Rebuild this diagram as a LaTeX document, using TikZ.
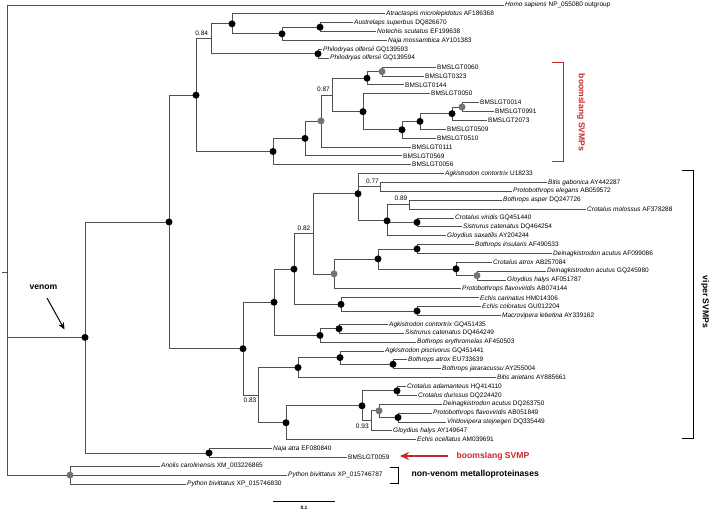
\documentclass[tikz,border=0pt]{standalone}
\usepackage{fontspec}
\setmainfont{Liberation Sans}
\usetikzlibrary{arrows.meta}
\definecolor{brc}{RGB}{80,80,80}
\definecolor{gdc}{RGB}{115,115,115}
\definecolor{redc}{RGB}{200,40,45}
\newcommand\lf[4]{\node[lfst] (#1) at ({#2-1.5},{5+8.87*#3}) {#4};}
\newcommand\kids[2]{\foreach \c in {#2} {\draw[br] (#1) |- (\c);}}
\newcommand\bdot[1]{\fill[black] (#1) circle (3.5pt);}
\newcommand\gdot[1]{\fill[gdc] (#1) circle (3.5pt);}
\begin{document}
\begin{tikzpicture}[x=1pt,y=-1pt,
  lfst/.style={anchor=west,inner xsep=1.5pt,inner ysep=0pt,font=\fontsize{6.5}{7}\selectfont},
  br/.style={draw=brc,line width=0.75pt},
  supp/.style={font=\fontsize{6.5}{7}\selectfont,inner sep=0pt},
  bigl/.style={font=\fontsize{8.6}{10}\selectfont\bfseries,inner sep=0pt},
]
\useasboundingbox (0,0) rectangle (711,510);
% leaves
\lf{hom}{505}{0}{\textit{Homo sapiens} NP\_055080 outgroup}
\lf{atr}{386}{1}{\textit{Atractaspis microlepidotus} AF186368}
\lf{aus}{354}{2}{\textit{Austrelaps superbus} DQ826670}
\lf{not}{377}{3}{\textit{Notechis scutatus} EF199638}
\lf{nmo}{388}{4}{\textit{Naja mossambica} AY101383}
\lf{ph1}{323}{5}{\textit{Philodryas olfersii} GQ139593}
\lf{ph2}{330}{6}{\textit{Philodryas olfersii} GQ139594}
\lf{b0060}{437}{7}{BMSLGT0060}
\lf{b0323}{425}{8}{BMSLGT0323}
\lf{b0144}{405}{9}{BMSLGT0144}
\lf{b0050}{431}{10}{BMSLGT0050}
\lf{b0014}{480}{11}{BMSLGT0014}
\lf{b0991}{495}{12}{BMSLGT0991}
\lf{b2073}{488}{13}{BMSLGT2073}
\lf{b0509}{447}{14}{BMSLGT0509}
\lf{b0510}{437}{15}{BMSLGT0510}
\lf{b0111}{412}{16}{BMSLGT0111}
\lf{b0569}{403}{17}{BMSLGT0569}
\lf{b0056}{412}{18}{BMSLGT0056}
\lf{v19}{445}{19}{\textit{Agkistrodon contortrix} U18233}
\lf{v20}{548}{20}{\textit{Bitis gabonica} AY442287}
\lf{v21}{513}{21}{\textit{Protobothrops elegans} AB059572}
\lf{v22}{503}{22}{\textit{Bothrops asper} DQ247726}
\lf{v23}{587}{23}{\textit{Crotalus molossus} AF378288}
\lf{v24}{455}{24}{\textit{Crotalus viridis} GQ451440}
\lf{v25}{463}{25}{\textit{Sistrurus catenatus} DQ464254}
\lf{v26}{447}{26}{\textit{Gloydius saxatilis} AY204244}
\lf{v27}{475}{27}{\textit{Bothrops insularis} AF490533}
\lf{v28}{553}{28}{\textit{Deinagkistrodon acutus} AF099086}
\lf{v29}{493}{29}{\textit{Crotalus atrox} AB257084}
\lf{v30}{547}{30}{\textit{Deinagkistrodon acutus} GQ245980}
\lf{v31}{507}{31}{\textit{Gloydius halys} AF051787}
\lf{v32}{462}{32}{\textit{Protobothrops flavoviridis} AB074144}
\lf{v33}{480}{33}{\textit{Echis carinatus} HM014306}
\lf{v34}{482}{34}{\textit{Echis coloratus} GU012204}
\lf{v35}{502}{35}{\textit{Macrovipera lebetina} AY339162}
\lf{v36}{389}{36}{\textit{Agkistrodon contortrix} GQ451435}
\lf{v37}{405}{37}{\textit{Sistrurus catenatus} DQ464249}
\lf{v38}{417}{38}{\textit{Bothrops erythromelas} AF450503}
\lf{v39}{385}{39}{\textit{Agkistrodon piscivorus} GQ451441}
\lf{v40}{408}{40}{\textit{Bothrops atrox} EU733639}
\lf{v41}{442}{41}{\textit{Bothrops jararacussu} AY255004}
\lf{v42}{497}{42}{\textit{Bitis arietans} AY885661}
\lf{v43}{407}{43}{\textit{Crotalus adamanteus} HQ414110}
\lf{v44}{418}{44}{\textit{Crotalus durissus} DQ224420}
\lf{v45}{443}{45}{\textit{Deinagkistrodon acutus} DQ263750}
\lf{v46}{433}{46}{\textit{Protobothrops flavoviridis} AB051849}
\lf{v47}{447}{47}{\textit{Viridovipera stejnegeri} DQ335449}
\lf{v48}{393}{48}{\textit{Gloydius halys} AY149647}
\lf{v49}{417}{49}{\textit{Echis ocellatus} AM039691}
\lf{nat}{273}{50}{\textit{Naja atra} EF080840}
\lf{b0059}{348}{51}{BMSLGT0059}
\lf{ano}{161}{52}{\textit{Anolis carolinensis} XM\_003226865}
\lf{py1}{288}{53}{\textit{Python bivittatus} XP\_015746787}
\lf{py2}{187}{54}{\textit{Python bivittatus} XP\_015746830}
% internal nodes
\coordinate (nA) at (320,27.18);
\coordinate (nB) at (282,33.83);
\coordinate (nC) at (232,23.85);
\coordinate (nPh) at (318,53.79);
\coordinate (n084) at (211,38.82);
\coordinate (nG1) at (382,71.53);
\coordinate (nD) at (367,78.18);
\coordinate (nG2) at (462,107.0);
\coordinate (nE) at (452,113.66);
\coordinate (nF) at (420,121.42);
\coordinate (nH) at (402,129.74);
\coordinate (nI) at (363,111.72);
\coordinate (n087) at (332,94.95);
\coordinate (nG3) at (321,120.94);
\coordinate (nJ) at (305,138.37);
\coordinate (nK) at (273,151.52);
\coordinate (nL) at (196,95.17);
\coordinate (n077) at (380,186.84);
\coordinate (n089) at (409,204.58);
\coordinate (nO) at (417,222.32);
\coordinate (nN) at (387,220.84);
\coordinate (nM) at (358,193.74);
\coordinate (nP) at (417,248.93);
\coordinate (nG4) at (477,275.54);
\coordinate (nQ) at (456,268.89);
\coordinate (nR) at (378,258.91);
\coordinate (nG5) at (334,273.88);
\coordinate (n082) at (313,233.81);
\coordinate (nS) at (417,311.02);
\coordinate (nT) at (341,304.37);
\coordinate (nU) at (294,269.09);
\coordinate (nV) at (339,328.76);
\coordinate (nW) at (320,335.41);
\coordinate (nX) at (274,302.25);
\coordinate (nY) at (393,364.24);
\coordinate (nZ) at (340,357.59);
\coordinate (nAA) at (298,367.57);
\coordinate (nAB) at (397,390.85);
\coordinate (nAC) at (398,417.46);
\coordinate (nG6) at (379,410.81);
\coordinate (n093) at (371,420.79);
\coordinate (nAD) at (362,405.82);
\coordinate (nAE) at (286,422.73);
\coordinate (n083) at (258,395.15);
\coordinate (nAF) at (243,348.70);
\coordinate (nAG) at (169,221.94);
\coordinate (nAH) at (209,452.94);
\coordinate (ven) at (85,337.44);
\coordinate (nPy) at (70,475.11);
\coordinate (root) at (7.3,272.5);
\coordinate (stem) at (2,272.5);
% branches
\draw[br] (stem) -- (root);
\kids{root}{hom.west,ven,nPy}
\kids{nA}{aus.west,not.west}
\kids{nB}{nA,nmo.west}
\kids{nC}{atr.west,nB}
\kids{nPh}{ph1.west,ph2.west}
\kids{n084}{nC,nPh}
\kids{nG1}{b0060.west,b0323.west}
\kids{nD}{nG1,b0144.west}
\kids{nG2}{b0014.west,b0991.west}
\kids{nE}{nG2,b2073.west}
\kids{nF}{nE,b0509.west}
\kids{nH}{nF,b0510.west}
\kids{nI}{b0050.west,nH}
\kids{n087}{nD,nI}
\kids{nG3}{n087,b0111.west}
\kids{nJ}{nG3,b0569.west}
\kids{nK}{nJ,b0056.west}
\kids{nL}{n084,nK}
\kids{n077}{v20.west,v21.west}
\kids{n089}{v22.west,v23.west}
\kids{nO}{v24.west,v25.west}
\kids{nN}{n089,nO,v26.west}
\kids{nM}{v19.west,n077,nN}
\kids{nP}{v27.west,v28.west}
\kids{nG4}{v30.west,v31.west}
\kids{nQ}{v29.west,nG4}
\kids{nR}{nP,nQ}
\kids{nG5}{nR,v32.west}
\kids{n082}{nM,nG5}
\kids{nS}{v34.west,v35.west}
\kids{nT}{v33.west,nS}
\kids{nU}{n082,nT}
\kids{nV}{v36.west,v37.west}
\kids{nW}{nV,v38.west}
\kids{nX}{nU,nW}
\kids{nY}{v40.west,v41.west}
\kids{nZ}{v39.west,nY}
\kids{nAA}{nZ,v42.west}
\kids{nAB}{v43.west,v44.west}
\kids{nAC}{v46.west,v47.west}
\kids{nG6}{v45.west,nAC}
\kids{n093}{nG6,v48.west}
\kids{nAD}{nAB,n093}
\kids{nAE}{nAD,v49.west}
\kids{n083}{nAA,nAE}
\kids{nAF}{nX,n083}
\kids{nAG}{nL,nAF}
\kids{nAH}{nat.west,b0059.west}
\kids{ven}{nAG,nAH}
\kids{nPy}{ano.west,py1.west,py2.west}
% dots
\foreach \n in {nA,nB,nC,nPh,nD,nE,nF,nH,nI,nJ,nK,nL,nM,nN,nO,nP,nQ,nR,nS,nT,nU,nV,nW,nX,nY,nZ,nAA,nAB,nAC,nAD,nAE,nAF,nAG,nAH,ven} {\bdot{\n}}
\foreach \n in {nG1,nG2,nG3,nG4,nG5,nG6,nPy} {\gdot{\n}}
% support values
\node[supp] (s084) at (201.7,33.3) {0.84};
\node[supp] (s087) at (323.5,89.3) {0.87};
\node[supp] (s077) at (372.5,181.7) {0.77};
\node[supp] (s089) at (401,198.5) {0.89};
\node[supp] (s082) at (304,228) {0.82};
\node[supp] (s083) at (250,400.5) {0.83};
\node[supp] (s093) at (362.3,426.3) {0.93};
% boomslang bracket
\coordinate (bt1) at (552,63);
\coordinate (bt2) at (563,63);
\coordinate (bb2) at (563,162);
\coordinate (bb1) at (552,162);
\draw[redc,line width=1pt] (bt1) -- (bt2) -- (bb2) -- (bb1);
\node[bigl,text=redc,rotate=-90] (lboom) at (581,112.5) {boomslang SVMPs};
% viper bracket
\coordinate (vt1) at (682,171);
\coordinate (vt2) at (693,171);
\coordinate (vb2) at (693,438);
\coordinate (vb1) at (682,438);
\draw[black,line width=1pt] (vt1) -- (vt2) -- (vb2) -- (vb1);
\node[bigl,rotate=-90] (lvip) at (705,302) {viper SVMPs};
% non-venom bracket
\coordinate (nt1) at (390,467);
\coordinate (nt2) at (398,467);
\coordinate (nb2) at (398,483);
\coordinate (nb1) at (390,483);
\draw[black,line width=1pt] (nt1) -- (nt2) -- (nb2) -- (nb1);
\node[bigl,anchor=west] (lnon) at (411.5,474) {non-venom metalloproteinases};
% boomslang SVMP arrow
\node[bigl,anchor=west,text=redc] (lbs) at (456.5,455.8) {boomslang SVMP};
\coordinate (ra1) at (448,456);
\coordinate (ra2) at (400,456);
\draw[redc,line width=1.4pt,-{Stealth[length=9pt,width=8pt]}] (ra1) -- (ra2);
% venom arrow
\node[bigl] (lven) at (43.5,287.5) {venom};
\coordinate (va1) at (47,298);
\coordinate (va2) at (64.5,329.5);
\draw[black,line width=1pt,-{Stealth[length=7pt,width=6pt]}] (va1) -- (va2);
% scale bar
\coordinate (sc1) at (273,501);
\coordinate (sc2) at (335,501);
\draw[black,line width=0.8pt] (sc1) -- (sc2);
\node[font=\fontsize{5}{6}\selectfont\bfseries,inner sep=0pt] (lsc) at (304,507.5) {0.1};
\end{tikzpicture}
\end{document}
